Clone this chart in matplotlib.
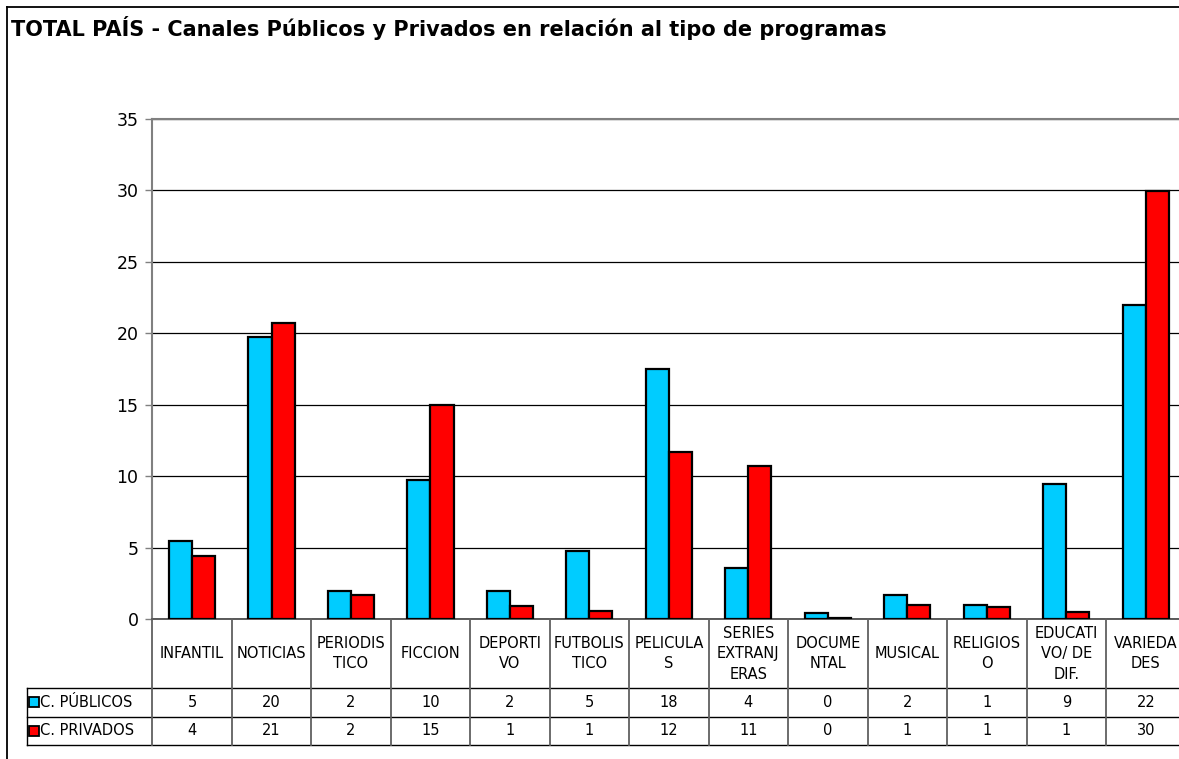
import matplotlib
matplotlib.use("Agg")
import matplotlib.pyplot as plt
from matplotlib.lines import Line2D
import numpy as np

plt.rcParams["font.family"] = ["DejaVu Sans"]

title = "TOTAL PAÍS - Canales Públicos y Privados en relación al tipo de programas"

categories = ["INFANTIL", "NOTICIAS", "PERIODIS\nTICO", "FICCION", "DEPORTI\nVO",
              "FUTBOLIS\nTICO", "PELICULA\nS", "SERIES\nEXTRANJ\nERAS", "DOCUME\nNTAL",
              "MUSICAL", "RELIGIOS\nO", "EDUCATI\nVO/ DE\nDIF.", "VARIEDA\nDES"]

series_names = ["C. PÚBLICOS", "C. PRIVADOS"]

# bar heights
publicos = [5.45, 19.75, 1.95, 9.75, 1.97, 4.74, 17.53, 3.55, 0.40, 1.66, 0.97, 9.43, 21.97]
privados = [4.42, 20.74, 1.68, 14.97, 0.92, 0.56, 11.67, 10.74, 0.10, 0.97, 0.85, 0.50, 29.96]

# values printed in the data table
publicos_tabla = ["5", "20", "2", "10", "2", "5", "18", "4", "0", "2", "1", "9", "22"]
privados_tabla = ["4", "21", "2", "15", "1", "1", "12", "11", "0", "1", "1", "1", "30"]

colors = ["#00CCFF", "#FF0000"]

W, H = 1179, 759


def fx(px):
    return px / W


def fy(py):
    return 1 - py / H


fig = plt.figure(figsize=(W / 100, H / 100), dpi=100)

# plot area in pixels
left, right, top, zero = 152.3, 1185.5, 119, 619
colw = (right - left) / len(categories)

ax = fig.add_axes([fx(left), fy(zero), fx(right - left), (zero - top) / H])
x = np.arange(len(categories))
bw = 0.29
for i, (vals, c) in enumerate(zip([publicos, privados], colors)):
    ax.bar(x + (i - 0.5) * bw, vals, width=bw, color=c, edgecolor="black",
           linewidth=1.6, zorder=3)

ax.set_xlim(-0.5, len(categories) - 0.5)
ax.set_ylim(0, 35)
ax.set_yticks(range(0, 36, 5))
ax.set_xticks([])
ax.yaxis.grid(True, color="black", linewidth=0.9, zorder=0)
ax.tick_params(axis="y", length=5, width=1, color="#808080", pad=5, labelsize=12.5)
ax.spines["right"].set_visible(False)
ax.spines["left"].set_color("#808080")
ax.spines["left"].set_linewidth(1.5)
ax.spines["top"].set_color("#808080")
ax.spines["top"].set_linewidth(1.5)
ax.spines["bottom"].set_color("#404040")
ax.spines["bottom"].set_linewidth(1.2)

# data table below the plot
tab_bottom = 744.5
tax = fig.add_axes([fx(left), fy(tab_bottom), fx(right - left), (tab_bottom - zero) / H])
tax.set_xlim(-0.5, len(categories) - 0.5)
tax.set_ylim(tab_bottom, zero)
tax.axis("off")


def xd(px):
    return -0.5 + (px - left) / colw


row1, row2 = 688.3, 716.6
xlab = xd(26.7)
xend = len(categories) - 0.5
for yy in [row1, row2, tab_bottom]:
    tax.plot([xlab, xend], [yy, yy], color="black", lw=1, clip_on=False)
tax.plot([xlab, xlab], [row1, tab_bottom], color="black", lw=1, clip_on=False)
for k in range(len(categories) + 1):
    tax.plot([k - 0.5, k - 0.5], [zero, tab_bottom], color="#606060", lw=1.3, clip_on=False)

fs = 10.5
for i, cat in enumerate(categories):
    tax.text(i, (zero + row1) / 2, cat, ha="center", va="center", fontsize=fs,
             linespacing=1.45)
    tax.text(i, (row1 + row2) / 2, publicos_tabla[i], ha="center", va="center", fontsize=fs)
    tax.text(i, (row2 + tab_bottom) / 2, privados_tabla[i], ha="center", va="center", fontsize=fs)

for name, c, (y0, y1) in zip(series_names, colors, [(row1, row2), (row2, tab_bottom)]):
    tax.plot([xd(34.3)], [(y0 + y1) / 2], marker="s", markersize=7.2, color=c,
             markeredgecolor="black", markeredgewidth=1.3, clip_on=False)
    tax.text(xd(40.5), (y0 + y1) / 2, name, ha="left", va="center", fontsize=fs)

# outer chart border
fig.add_artist(Line2D([fx(6.7), fx(6.7)], [0, fy(6.7)], color="black", lw=1.3))
fig.add_artist(Line2D([fx(6.7), 1], [fy(6.7), fy(6.7)], color="black", lw=1.3))

fig.text(fx(11), fy(36.5), title, fontsize=15, fontweight="bold", ha="left", va="baseline")

fig.savefig("out.png", dpi=100)
